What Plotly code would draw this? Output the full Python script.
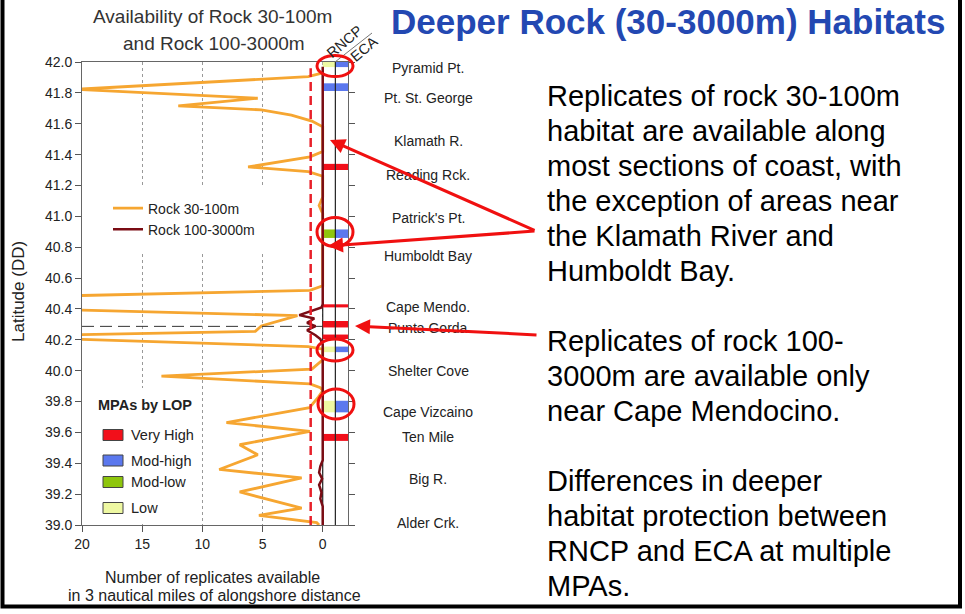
import plotly.graph_objects as go

# Rock 30-100m replicates (x = count, y = latitude), traced top to bottom
rock30_lat = [41.93, 41.905, 41.823, 41.765, 41.716, 41.69, 41.656, 41.617, 41.58,
              41.42, 41.385, 41.32, 41.29, 41.26, 41.125, 41.07, 41.03, 41.02,
              40.55, 40.52, 40.48, 40.40, 40.357, 40.29, 40.255, 40.228, 40.212,
              40.156, 40.14, 40.07, 40.01, 39.965, 39.914, 39.89, 39.87, 39.83,
              39.76, 39.664, 39.606, 39.52, 39.455, 39.36, 39.305, 39.214, 39.11,
              39.062, 39.015, 39.0]
rock30_val = [0, 1.2, 20.5, 5.4, 12.0, 5.1, 2.6, 0.9, 0,
              0, 1.06, 6.2, 1.2, 0, 0, 0.3, 0.08, 0,
              0, 1.06, 24, 24, 2.1, 5.1, 5.6, 24, 24,
              1.2, 0, 0, 0.9, 13.4, 1.06, 0.2, 0, 0.35,
              1.1, 8.0, 1.06, 6.9, 5.4, 8.6, 1.75, 6.9, 1.75,
              5.3, 0.5, 0.3]

# Rock 100-3000m replicates
rock100_lat = [41.97, 40.43, 40.41, 40.36, 40.338, 40.31, 40.288, 40.262, 40.23,
               40.205, 40.17, 39.42, 39.38, 39.34, 39.30, 39.26, 39.21, 39.17,
               39.12, 39.0]
rock100_val = [0, 0, 0.1, 1.95, 0.7, 1.3, 0.6, 1.3, 0.6,
               0.2, 0, 0, 0.2, 0.3, 0.05, 0.3, 0.1, 0.2,
               0, 0]

# MPAs (latitude extent) and level of protection in each proposal
mpa_top = [42.0, 41.862, 41.34, 40.915, 40.43, 40.322, 40.234, 40.156, 39.805, 39.59]
mpa_bottom = [41.967, 41.812, 41.30, 40.86, 40.41, 40.28, 40.205, 40.12, 39.73, 39.545]
rncp_lop = ["Low", "Mod-high", "Very High", "Mod-low", "Very High", "Very High",
            "Very High", "Low", "Low", "Very High"]
eca_lop = ["Mod-high", "Mod-high", "Very High", "Mod-high", "Very High", "Very High",
           "Very High", "Mod-high", "Mod-high", "Very High"]

lop_levels = ["Very High", "Mod-high", "Mod-low", "Low"]
lop_colors = {"Very High": "#F20F1A", "Mod-high": "#5B78EE",
              "Mod-low": "#8EC60C", "Low": "#EEF8A2"}

sites = ["Pyramid Pt.", "Pt. St. George", "Klamath R.", "Reading Rck.", "Patrick's Pt.",
         "Humboldt Bay", "Cape Mendo.", "Punta Gorda", "Shelter Cove", "Cape Vizcaino",
         "Ten Mile", "Big R.", "Alder Crk."]
site_lat = [41.96, 41.77, 41.49, 41.265, 40.99, 40.745, 40.415, 40.278, 40.0,
            39.73, 39.568, 39.30, 39.015]

x_ticks = [20, 15, 10, 5, 0]
threshold = 1          # red dashed line
punta_gorda_lat = 40.287
col_w = 1.05           # width of the RNCP / ECA columns

FONT = "Arial, Liberation Sans, sans-serif"
W, H = 965, 614
L, R, T, B = 82, 348, 62, 525


def px(x):
    return (x - L) / (R - L)


def py(y):
    return (B - y) / (B - T)


def xv(x):
    return 20 - (x - L) / (R - L) * 22.1


def yv(y):
    return 42 - (y - T) / (B - T) * 3.0


def label(x, y, text, size, color="#222", **kw):
    d = dict(x=x, y=y, xref="paper", yref="paper", xanchor="center", yanchor="middle",
             text=text, showarrow=False, font=dict(size=size, color=color))
    d.update(kw)
    return d


fig = go.Figure()

mid = [(a + b) / 2 for a, b in zip(mpa_top, mpa_bottom)]
hgt = [a - b for a, b in zip(mpa_top, mpa_bottom)]
n = len(mid)
fig.add_trace(go.Bar(orientation="h", y=mid, x=[-col_w] * n, base=[0] * n, width=hgt,
                     marker=dict(color=[lop_colors[v] for v in rncp_lop], line_width=0),
                     showlegend=False, hoverinfo="skip"))
fig.add_trace(go.Bar(orientation="h", y=mid, x=[-col_w] * n, base=[-col_w] * n, width=hgt,
                     marker=dict(color=[lop_colors[v] for v in eca_lop], line_width=0),
                     showlegend=False, hoverinfo="skip"))

fig.add_trace(go.Scatter(x=rock30_val, y=rock30_lat, mode="lines", name="Rock 30-100m",
                         line=dict(color="#F6A631", width=2.8)))
fig.add_trace(go.Scatter(x=rock100_val, y=rock100_lat, mode="lines", name="Rock 100-3000m",
                         line=dict(color="#7A0C14", width=2.5)))

# white areas behind the legends (hide the dotted grid)
fig.add_shape(type="rect", xref="x", yref="y", x0=xv(96), x1=xv(278), y0=yv(186), y1=yv(252),
              fillcolor="white", line_width=0, layer="between")
fig.add_shape(type="rect", xref="x", yref="y", x0=xv(88), x1=xv(196), y0=yv(388), y1=yv(524),
              fillcolor="white", line_width=0, layer="between")

# column lines
fig.add_shape(type="line", xref="x", yref="y", x0=0, x1=0, y0=39, y1=41.965,
              line=dict(color="#222", width=1.2), layer="between")
fig.add_shape(type="line", xref="x", yref="y", x0=-col_w, x1=-col_w, y0=39, y1=42,
              line=dict(color="#222", width=1.2))
fig.add_shape(type="line", xref="x", yref="y", x0=threshold, x1=threshold, y0=39, y1=41.96,
              line=dict(color="#E8202A", width=2.5, dash="9px,5px"))
fig.add_shape(type="line", xref="x", yref="y", x0=20, x1=0, y0=punta_gorda_lat, y1=punta_gorda_lat,
              line=dict(color="#333", width=1, dash="12px,6px"))

# MPA legend
ann = [label(px(145), py(405), "<b>MPAs by LOP</b>", 14.5)]
for lvl, yc in zip(lop_levels, [435, 460.5, 482, 508]):
    fig.add_shape(type="rect", xref="paper", yref="paper", x0=px(103), x1=px(123),
                  y0=py(yc + 5.5), y1=py(yc - 5.5), fillcolor=lop_colors[lvl],
                  line=dict(color="#444", width=1))
    ann.append(label(px(129), py(yc), lvl, 14.5, xanchor="left"))

# site labels
for s, lat in zip(sites, site_lat):
    ann.append(label(px(428), lat, s, 14, yref="y"))

# column headers
ann.append(label(px(344), py(42), "RNCP", 14.5, textangle=-40))
ann.append(label(px(364), py(49), "ECA", 14.5, textangle=-40))
fig.add_shape(type="line", xref="paper", yref="paper", x0=px(335), x1=px(372),
              y0=py(62), y1=py(33), line=dict(color="#777", width=1))

# chart titles
ann.append(label(px(212), py(17), "Availability of Rock 30-100m", 19, "#333"))
ann.append(label(px(214), py(43), "and Rock 100-3000m", 19, "#333"))
ann.append(label(px(18), py(292), "Latitude (DD)", 17, textangle=-90))
ann.append(label(px(212), py(577), "Number of replicates available", 16))
ann.append(label(px(214), py(595), "in 3 nautical miles of alongshore distance", 16))

# slide title and text
ann.append(label(px(947), py(22), "<b>Deeper Rock (30-3000m) Habitats</b>", 35, "#2348B2",
                 xanchor="right"))
body = ["Replicates of rock 30-100m", "habitat are available along",
        "most sections of coast, with", "the exception of areas near",
        "the Klamath River and", "Humboldt Bay.", "",
        "Replicates of rock 100-", "3000m are available only", "near Cape Mendocino.", "",
        "Differences in deeper", "habitat protection between",
        "RNCP and ECA at multiple", "MPAs."]
for i, line in enumerate(body):
    if line:
        ann.append(label(px(545), py(96 + 35 * i), line, 29, "black", xanchor="left"))

# red arrows
for (hx, hy), (tx, ty) in [((330, 140), (536, 231)), ((328, 246), (536, 231)),
                           ((355, 326), (538, 335))]:
    ann.append(dict(x=px(hx), y=py(hy), xref="paper", yref="paper", ax=tx - hx, ay=ty - hy,
                    text="", showarrow=True, arrowhead=2, arrowsize=1, arrowwidth=3,
                    arrowcolor="#F01010"))

# red ellipses
for cx, cy, rx, ry in [(335, 66, 18, 10.5), (335, 232, 18, 14.5),
                       (335, 350, 18, 11), (336, 404, 18, 15)]:
    fig.add_shape(type="circle", xref="paper", yref="paper", x0=px(cx - rx), x1=px(cx + rx),
                  y0=py(cy + ry), y1=py(cy - ry), line=dict(color="#F01010", width=3))

# slide border
fig.add_shape(type="rect", xref="paper", yref="paper", x0=px(2.5), x1=px(960),
              y0=py(606.5), y1=py(-10), line=dict(color="black", width=4))

fig.update_layout(
    width=W, height=H, margin=dict(l=L, r=W - R, t=T, b=H - B),
    paper_bgcolor="white", plot_bgcolor="white", barmode="overlay",
    font=dict(family=FONT, color="#222"),
    annotations=ann,
    legend=dict(x=px(108), y=py(219), xanchor="left", yanchor="middle", bgcolor="white",
                font=dict(size=14, color="#222"), tracegroupgap=0),
    xaxis=dict(range=[20, -2.1], tickvals=x_ticks, ticks="outside", ticklen=6,
               tickcolor="#555", showline=True, linecolor="#666", mirror=True,
               showgrid=True, gridcolor="#999", griddash="dot", gridwidth=1,
               zeroline=False, tickfont=dict(size=14, color="#222")),
    yaxis=dict(range=[39, 42], dtick=0.2, tickformat=".1f", ticks="outside", ticklen=6,
               tickcolor="#555", showline=True, linecolor="#666", mirror="ticks",
               showgrid=False, zeroline=False, tickfont=dict(size=14, color="#222")),
)

fig.write_html("out.html", config={"displayModeBar": False},
               post_script="document.body.style.margin='0';")
